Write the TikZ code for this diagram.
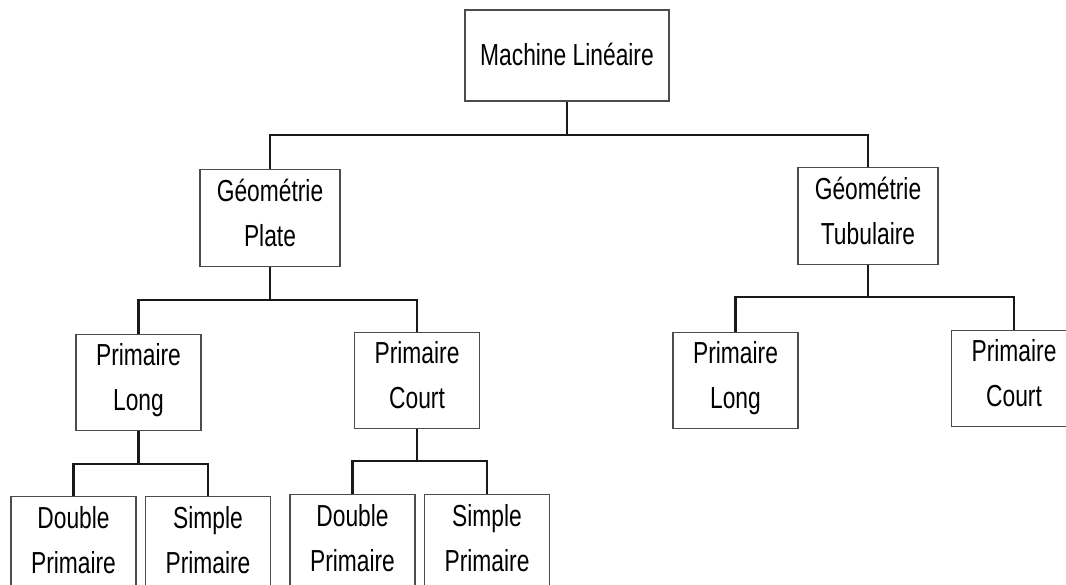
\documentclass[tikz,border=0pt]{standalone}
\usepackage{fontspec}
\setmainfont[FakeStretch=0.75]{Liberation Sans}
\usetikzlibrary{positioning}

\begin{document}
\begin{tikzpicture}[x=1pt, y=1pt,
    box/.style={draw=black!70, line width=1.2pt, rectangle, align=center, inner sep=0pt,
        minimum width=125pt, minimum height=96pt, text depth=10pt, font=\fontsize{30.4}{45}\selectfont},
    link/.style={draw=black!90, line width=2.2pt}]
    \useasboundingbox (0,0) rectangle (1066,-585);

    \node (machine) [box, minimum width=204pt, minimum height=91pt, text depth=3pt] at (567,-55.5) {Machine Linéaire};
    \node (plate) [box, below=67pt of machine, xshift=-297pt, minimum width=140pt, minimum height=97pt] {Géométrie\\Plate};
    \node (tubulaire) [box, below=65pt of machine, xshift=301pt, minimum width=140pt, minimum height=97pt] {Géométrie\\Tubulaire};

    \node (longP) [box, below=67pt of plate, xshift=-131.5pt] {Primaire\\Long};
    \node (courtP) [box, below=65pt of plate, xshift=147pt] {Primaire\\Court};
    \node (longT) [box, below=67pt of tubulaire, xshift=-132.5pt] {Primaire\\Long};
    \node (courtT) [box, below=65pt of tubulaire, xshift=146pt] {Primaire\\Court};

    \node (doubleL) [box, below=65pt of longP, xshift=-65pt] {Double\\Primaire};
    \node (simpleL) [box, below=65pt of longP, xshift=69.5pt] {Simple\\Primaire};
    \node (doubleC) [box, below=65pt of courtP, xshift=-64.5pt] {Double\\Primaire};
    \node (simpleC) [box, below=65pt of courtP, xshift=70pt] {Simple\\Primaire};

    \draw [link] (machine.south) -- ++(0,-33.5) -| (plate.north);
    \draw [link] (machine.south) -- ++(0,-33.5) -| (tubulaire.north);
    \draw [link] (plate.south) -- ++(0,-33) -| (longP.north);
    \draw [link] (plate.south) -- ++(0,-33) -| (courtP.north);
    \draw [link] (tubulaire.south) -- ++(0,-32.5) -| (longT.north);
    \draw [link] (tubulaire.south) -- ++(0,-32.5) -| (courtT.north);
    \draw [link] (longP.south) -- ++(0,-33) -| (doubleL.north);
    \draw [link] (longP.south) -- ++(0,-33) -| (simpleL.north);
    \draw [link] (courtP.south) -- ++(0,-32) -| (doubleC.north);
    \draw [link] (courtP.south) -- ++(0,-32) -| (simpleC.north);
\end{tikzpicture}
\end{document}
